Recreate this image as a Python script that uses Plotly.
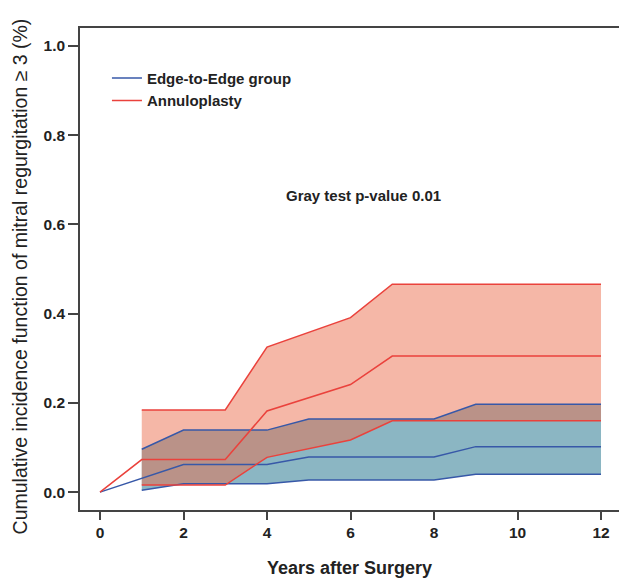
import plotly.graph_objects as go

# ---- data ----
years_band = [1, 2, 3, 4, 5, 6, 7, 8, 9, 10, 11, 12]

# Annuloplasty (red)
ann_x = [0, 1, 2, 3, 4, 5, 6, 7, 8, 9, 10, 11, 12]
ann_mid = [0.0, 0.073, 0.073, 0.073, 0.182, 0.211, 0.241, 0.305, 0.305, 0.305, 0.305, 0.305, 0.305]
ann_upper = [0.184, 0.184, 0.184, 0.325, 0.358, 0.391, 0.466, 0.466, 0.466, 0.466, 0.466, 0.466]
ann_lower = [0.016, 0.016, 0.016, 0.078, 0.097, 0.117, 0.160, 0.160, 0.160, 0.160, 0.160, 0.160]

# Edge-to-Edge (blue)
e2e_x = [0, 2, 3, 4, 5, 6, 7, 8, 9, 10, 11, 12]
e2e_mid = [0.0, 0.062, 0.062, 0.062, 0.079, 0.079, 0.079, 0.079, 0.102, 0.102, 0.102, 0.102]
e2e_upper = [0.096, 0.139, 0.139, 0.139, 0.164, 0.164, 0.164, 0.164, 0.197, 0.197, 0.197, 0.197]
e2e_lower = [0.004, 0.019, 0.019, 0.019, 0.027, 0.027, 0.027, 0.027, 0.040, 0.040, 0.040, 0.040]

x_ticks = [0, 2, 4, 6, 8, 10, 12]
y_ticks = [0.0, 0.2, 0.4, 0.6, 0.8, 1.0]
y_tick_text = ["0.0", "0.2", "0.4", "0.6", "0.8", "1.0"]

BLUE = "rgb(55,88,168)"
RED = "rgb(234,66,60)"
BLUE_FILL = "rgb(139,182,195)"
RED_FILL = "rgba(234,108,76,0.49)"
FONT = "Liberation Sans, Arial, Helvetica, sans-serif"

fig = go.Figure()

# blue band
fig.add_trace(go.Scatter(x=years_band, y=e2e_lower, mode="lines", line=dict(width=0, color=BLUE),
                         showlegend=False, hoverinfo="skip"))
fig.add_trace(go.Scatter(x=years_band, y=e2e_upper, mode="lines", line=dict(width=0, color=BLUE),
                         fill="tonexty", fillcolor=BLUE_FILL, showlegend=False, hoverinfo="skip"))
# red band
fig.add_trace(go.Scatter(x=years_band, y=ann_lower, mode="lines", line=dict(width=0, color=RED),
                         showlegend=False, hoverinfo="skip"))
fig.add_trace(go.Scatter(x=years_band, y=ann_upper, mode="lines", line=dict(width=0, color=RED),
                         fill="tonexty", fillcolor=RED_FILL, showlegend=False, hoverinfo="skip"))

# lines
for ys in (e2e_lower, e2e_upper):
    fig.add_trace(go.Scatter(x=years_band, y=ys, mode="lines", line=dict(width=1.5, color=BLUE),
                             showlegend=False))
fig.add_trace(go.Scatter(x=e2e_x, y=e2e_mid, mode="lines", line=dict(width=1.5, color=BLUE),
                         name="Edge-to-Edge group"))
for ys in (ann_lower, ann_upper):
    fig.add_trace(go.Scatter(x=years_band, y=ys, mode="lines", line=dict(width=1.5, color=RED),
                             showlegend=False))
fig.add_trace(go.Scatter(x=ann_x, y=ann_mid, mode="lines", line=dict(width=1.5, color=RED),
                         name="Annuloplasty"))

fig.add_annotation(x=6.3, y=0.664, xref="x", yref="y", text="Gray test p-value 0.01",
                   showarrow=False, font=dict(family=FONT, size=15, color="#222", weight="bold"))

# axis titles as annotations
fig.add_annotation(x=-0.111, y=0.485, xref="paper", yref="paper",
                   text="Cumulative incidence function of mitral regurgitation \u2265 3 (%)",
                   textangle=-90, showarrow=False, xanchor="center", yanchor="middle",
                   font=dict(family=FONT, size=19.5, color="#222"))
fig.add_annotation(x=0.5, y=-0.12, xref="paper", yref="paper", text="Years after Surgery",
                   showarrow=False, xanchor="center", yanchor="middle",
                   font=dict(family=FONT, size=18, color="#222", weight="bold"))

fig.update_layout(
    width=619, height=580,
    margin=dict(l=80, r=0, t=28, b=70),
    paper_bgcolor="white", plot_bgcolor="white",
    showlegend=True,
    legend=dict(x=0.05, y=0.93, xanchor="left", yanchor="top", bgcolor="rgba(0,0,0,0)",
                font=dict(family=FONT, size=15, color="#222", weight="bold"),
                itemwidth=30, tracegroupgap=0, traceorder="normal"),
    xaxis=dict(range=[-0.479, 12.431], tickvals=x_ticks, showgrid=False, zeroline=False,
               showline=True, linecolor="#444", linewidth=1.5, mirror=True,
               ticks="outside", ticklen=8, tickwidth=1.5, tickcolor="#444",
               tickfont=dict(family=FONT, size=15.5, color="#222", weight="bold")),
    yaxis=dict(range=[-0.04, 1.04], tickvals=y_ticks, ticktext=y_tick_text, showgrid=False,
               zeroline=False, showline=True, linecolor="#444", linewidth=1.5,
               ticks="outside", ticklen=10, tickwidth=1.5, tickcolor="#444",
               tickfont=dict(family=FONT, size=15.5, color="#222", weight="bold")),
)

fig.write_html("out.html", config={"displayModeBar": False},
               post_script="document.body.style.margin='0';")
